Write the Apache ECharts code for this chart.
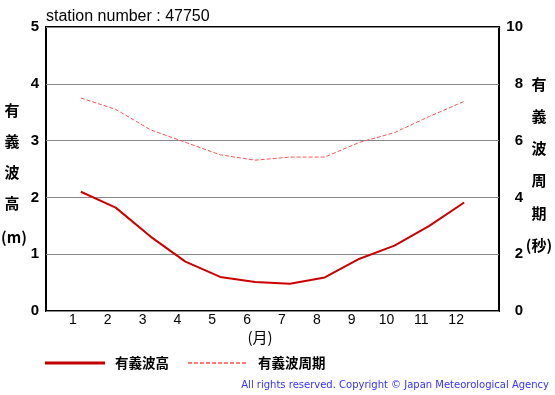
<!DOCTYPE html>
<html>
<head>
<meta charset="utf-8">
<script src="https://cdn.jsdelivr.net/npm/echarts@6/dist/echarts.min.js"></script>
<style>html,body{margin:0;padding:0;background:#fff}#c{width:555px;height:395px}</style>
</head>
<body>
<div id="c"></div>
<script>
var months = [1,2,3,4,5,6,7,8,9,10,11,12];
var waveHeight = [2.10,1.82,1.31,0.87,0.60,0.51,0.48,0.59,0.92,1.15,1.50,1.91];
var wavePeriod = [7.50,7.10,6.38,5.94,5.50,5.31,5.42,5.42,5.94,6.28,6.85,7.38];
var titleText = 'station number : 47750';
var leftTitle = ['有','義','波','高','(m)'];
var rightTitle = ['有','義','波','周','期','(秒)'];

var chart = echarts.init(document.getElementById('c'));
var cjk = '"Noto Sans CJK JP", sans-serif';
var lat = '"Liberation Sans", Arial, sans-serif';

var graphics = [];
var lY = [110,141,172,203,237];
leftTitle.forEach(function(t,i){
  var last = (i === leftTitle.length - 1);
  graphics.push({type:'text', x: last ? 1 : 12, y: lY[i], style:{text:t, align: last ? 'left' : 'center', verticalAlign:'middle', font:'bold 15px ' + cjk, fill:'#000'}});
});
var rY = [84,116,148,180,213,245];
rightTitle.forEach(function(t,i){
  graphics.push({type:'text', x: 539, y: rY[i], style:{text:t, align:'center', verticalAlign:'middle', font:'bold 15px ' + cjk, fill:'#000'}});
});
graphics.push({type:'text', x:260, y:337, style:{text:'(月)', align:'center', verticalAlign:'middle', font:'15px ' + cjk, fill:'#000'}});
graphics.push({type:'line', shape:{x1:45,y1:363,x2:105,y2:363}, style:{stroke:'#c00000', lineWidth:3}});
graphics.push({type:'text', x:115, y:363, style:{text:'有義波高', align:'left', verticalAlign:'middle', font:'bold 13.5px ' + cjk, fill:'#000'}});
graphics.push({type:'line', shape:{x1:188,y1:363,x2:246,y2:363}, style:{stroke:'#ff5050', lineWidth:1.5, lineDash:[4,2]}});
graphics.push({type:'text', x:258, y:363, style:{text:'有義波周期', align:'left', verticalAlign:'middle', font:'bold 13.5px ' + cjk, fill:'#000'}});
graphics.push({type:'text', x:549, y:385, style:{text:'All rights reserved. Copyright © Japan Meteorological Agency', align:'right', verticalAlign:'middle', font:'10px "DejaVu Sans", Verdana, sans-serif', fill:'#3333ff'}});

chart.setOption({
  animation:false,
  title:{text:titleText, left:46, top:9, padding:0, textStyle:{fontSize:16, fontWeight:'normal', color:'#000', fontFamily:lat}},
  grid:{left:46, right:56, top:27, bottom:84, show:true, borderColor:'#000', borderWidth:2, backgroundColor:'transparent'},
  xAxis:{type:'value', min:0, max:13, interval:1,
    axisLine:{show:false}, axisTick:{show:false}, splitLine:{show:false},
    axisLabel:{margin:2, fontSize:14, color:'#000', fontFamily:lat, padding:[0,16,0,0],
      formatter:function(v){return (v>=1&&v<=12)? String(v) : '';}}},
  yAxis:[
    {type:'value', min:0, max:5, interval:1, position:'left',
     axisLine:{show:false}, axisTick:{show:false},
     splitLine:{show:true, lineStyle:{color:'#888', width:1}},
     axisLabel:{margin:7, fontSize:15, fontWeight:'bold', color:'#000', fontFamily:lat}},
    {type:'value', min:0, max:10, interval:2, position:'right',
     axisLine:{show:false}, axisTick:{show:false}, splitLine:{show:false},
     axisLabel:{margin:24, align:'right', fontSize:15, fontWeight:'bold', color:'#000', fontFamily:lat}}
  ],
  series:[
    {name:'有義波高', type:'line', yAxisIndex:0, data:months.map(function(m,i){return [m, waveHeight[i]];}),
     symbol:'none', lineStyle:{color:'#cc0000', width:2}, z:3},
    {name:'有義波周期', type:'line', yAxisIndex:1, data:months.map(function(m,i){return [m, wavePeriod[i]];}),
     symbol:'none', lineStyle:{color:'#ff5555', width:1, type:[4,2]}, z:2}
  ],
  graphic:graphics
});
</script>
</body>
</html>
